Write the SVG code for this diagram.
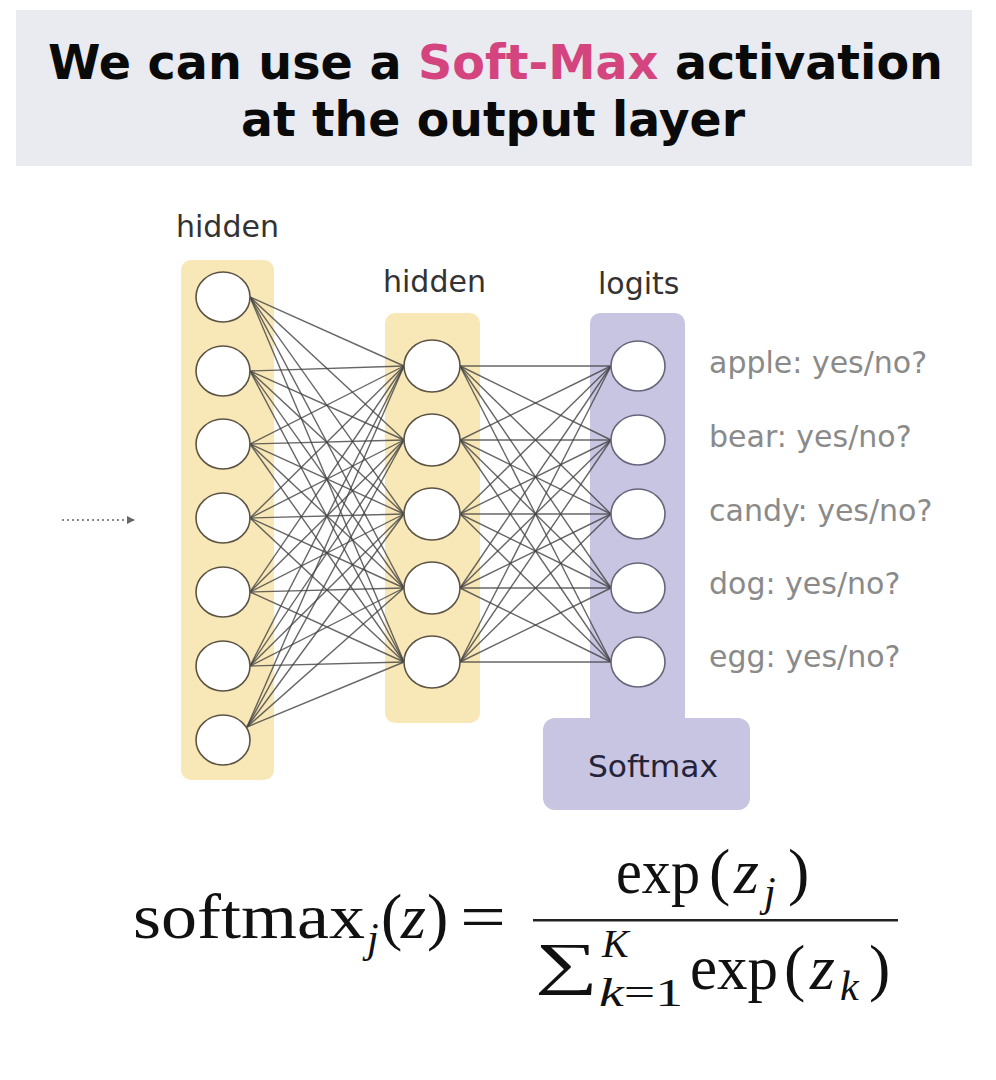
<svg xmlns="http://www.w3.org/2000/svg" width="996" height="1080" viewBox="0 0 996 1080">
<style>
.title{font-family:"DejaVu Sans","Liberation Sans",sans-serif;font-weight:bold;font-size:48px;fill:#0a0a0a}
.hdr{font-family:"DejaVu Sans","Liberation Sans",sans-serif;font-size:30px;fill:#333333}
.lbl{font-family:"DejaVu Sans","Liberation Sans",sans-serif;font-size:30px;fill:#8a8a8a}
.sm{font-family:"DejaVu Sans","Liberation Sans",sans-serif;font-size:30px;fill:#23233a}
.math{font-family:"Liberation Serif","DejaVu Serif",serif;fill:#111111}
.it{font-style:italic}
.n1{fill:#ffffff;stroke:#5b5444;stroke-width:1.6}
.n3{fill:#ffffff;stroke:#66667a;stroke-width:1.6}
.yel{fill:#f8e7b7}
.pur{fill:#c7c5e2}
#edges line{stroke:#444444;stroke-width:1.4;stroke-opacity:0.82}
</style>
<defs>
<marker id="ah" viewBox="0 0 10 10" refX="9" refY="5" markerWidth="4" markerHeight="4" orient="auto">
<path d="M0,0 L10,5 L0,10 z" fill="#666666"/>
</marker>
</defs>
<rect width="996" height="1080" fill="#ffffff"/>
<g id="title">
<rect x="16" y="10" width="956" height="156" fill="#e9ebf0"/>
<text class="title" x="48" y="79" textLength="895" lengthAdjust="spacingAndGlyphs">We can use a <tspan fill="#d4457f">Soft-Max</tspan> activation</text>
<text class="title" x="241" y="136" textLength="504" lengthAdjust="spacingAndGlyphs">at the output layer</text>
</g>
<g id="layer-backgrounds">
<rect class="yel" x="181" y="260" width="93" height="520" rx="10"/>
<rect class="yel" x="385" y="313" width="95" height="410" rx="10"/>
<rect class="pur" x="590" y="313" width="95" height="420" rx="10"/>
<rect class="pur" x="543" y="718" width="207" height="92" rx="12"/>
</g>
<g id="input-arrow">
<line x1="62" y1="520" x2="134" y2="520" stroke="#888888" stroke-width="2" stroke-dasharray="2 3" marker-end="url(#ah)"/>
</g>
<g id="edges">
<line x1="250" y1="297" x2="404" y2="366"/><line x1="250" y1="297" x2="404" y2="440"/><line x1="250" y1="297" x2="404" y2="514"/><line x1="250" y1="297" x2="404" y2="588"/><line x1="250" y1="297" x2="404" y2="662"/>
<line x1="250" y1="371" x2="404" y2="366"/><line x1="250" y1="371" x2="404" y2="440"/><line x1="250" y1="371" x2="404" y2="514"/><line x1="250" y1="371" x2="404" y2="588"/><line x1="250" y1="371" x2="404" y2="662"/>
<line x1="250" y1="444" x2="404" y2="366"/><line x1="250" y1="444" x2="404" y2="440"/><line x1="250" y1="444" x2="404" y2="514"/><line x1="250" y1="444" x2="404" y2="588"/><line x1="250" y1="444" x2="404" y2="662"/>
<line x1="250" y1="518" x2="404" y2="366"/><line x1="250" y1="518" x2="404" y2="440"/><line x1="250" y1="518" x2="404" y2="514"/><line x1="250" y1="518" x2="404" y2="588"/><line x1="250" y1="518" x2="404" y2="662"/>
<line x1="250" y1="592" x2="404" y2="366"/><line x1="250" y1="592" x2="404" y2="440"/><line x1="250" y1="592" x2="404" y2="514"/><line x1="250" y1="592" x2="404" y2="588"/><line x1="250" y1="592" x2="404" y2="662"/>
<line x1="250" y1="666" x2="404" y2="366"/><line x1="250" y1="666" x2="404" y2="440"/><line x1="250" y1="666" x2="404" y2="514"/><line x1="250" y1="666" x2="404" y2="588"/><line x1="250" y1="666" x2="404" y2="662"/>
<line x1="247" y1="727" x2="404" y2="366"/><line x1="247" y1="727" x2="404" y2="440"/><line x1="247" y1="727" x2="404" y2="514"/><line x1="247" y1="727" x2="404" y2="588"/><line x1="247" y1="727" x2="404" y2="662"/>
<line x1="460" y1="366" x2="611" y2="366"/><line x1="460" y1="366" x2="611" y2="440"/><line x1="460" y1="366" x2="611" y2="514"/><line x1="460" y1="366" x2="611" y2="588"/><line x1="460" y1="366" x2="611" y2="662"/>
<line x1="460" y1="440" x2="611" y2="366"/><line x1="460" y1="440" x2="611" y2="440"/><line x1="460" y1="440" x2="611" y2="514"/><line x1="460" y1="440" x2="611" y2="588"/><line x1="460" y1="440" x2="611" y2="662"/>
<line x1="460" y1="514" x2="611" y2="366"/><line x1="460" y1="514" x2="611" y2="440"/><line x1="460" y1="514" x2="611" y2="514"/><line x1="460" y1="514" x2="611" y2="588"/><line x1="460" y1="514" x2="611" y2="662"/>
<line x1="460" y1="588" x2="611" y2="366"/><line x1="460" y1="588" x2="611" y2="440"/><line x1="460" y1="588" x2="611" y2="514"/><line x1="460" y1="588" x2="611" y2="588"/><line x1="460" y1="588" x2="611" y2="662"/>
<line x1="460" y1="662" x2="611" y2="366"/><line x1="460" y1="662" x2="611" y2="440"/><line x1="460" y1="662" x2="611" y2="514"/><line x1="460" y1="662" x2="611" y2="588"/><line x1="460" y1="662" x2="611" y2="662"/>
</g>
<g id="layer1">
<text class="hdr" x="176" y="237">hidden</text>
<g id="h1-1"><ellipse class="n1" cx="223" cy="297" rx="27" ry="25"/></g>
<g id="h1-2"><ellipse class="n1" cx="223" cy="371" rx="27" ry="25"/></g>
<g id="h1-3"><ellipse class="n1" cx="223" cy="444" rx="27" ry="25"/></g>
<g id="h1-4"><ellipse class="n1" cx="223" cy="518" rx="27" ry="25"/></g>
<g id="h1-5"><ellipse class="n1" cx="223" cy="592" rx="27" ry="25"/></g>
<g id="h1-6"><ellipse class="n1" cx="223" cy="666" rx="27" ry="25"/></g>
<g id="h1-7"><ellipse class="n1" cx="223" cy="740" rx="27" ry="25"/></g>
</g>
<g id="layer2">
<text class="hdr" x="383" y="292">hidden</text>
<g id="h2-1"><ellipse class="n1" cx="432" cy="366" rx="28" ry="26"/></g>
<g id="h2-2"><ellipse class="n1" cx="432" cy="440" rx="28" ry="26"/></g>
<g id="h2-3"><ellipse class="n1" cx="432" cy="514" rx="28" ry="26"/></g>
<g id="h2-4"><ellipse class="n1" cx="432" cy="588" rx="28" ry="26"/></g>
<g id="h2-5"><ellipse class="n1" cx="432" cy="662" rx="28" ry="26"/></g>
</g>
<g id="logits">
<text class="hdr" x="598" y="294">logits</text>
<g id="out-apple"><ellipse class="n3" cx="638" cy="366" rx="27" ry="25"/><text class="lbl" x="709" y="373">apple: yes/no?</text></g>
<g id="out-bear"><ellipse class="n3" cx="638" cy="440" rx="27" ry="25"/><text class="lbl" x="709" y="447">bear: yes/no?</text></g>
<g id="out-candy"><ellipse class="n3" cx="638" cy="514" rx="27" ry="25"/><text class="lbl" x="709" y="521">candy: yes/no?</text></g>
<g id="out-dog"><ellipse class="n3" cx="638" cy="588" rx="27" ry="25"/><text class="lbl" x="709" y="594">dog: yes/no?</text></g>
<g id="out-egg"><ellipse class="n3" cx="638" cy="662" rx="27" ry="25"/><text class="lbl" x="709" y="667">egg: yes/no?</text></g>
</g>
<g id="softmax">
<text class="sm" x="588" y="777" textLength="130" lengthAdjust="spacingAndGlyphs">Softmax</text>
</g>
<g id="formula">
<text class="math" x="133" y="938" font-size="64" textLength="232" lengthAdjust="spacingAndGlyphs">softmax</text>
<text class="math it" x="367" y="952" font-size="42">j</text>
<text class="math" x="381" y="938" font-size="64">(</text>
<text class="math it" x="401" y="938" font-size="64">z</text>
<text class="math" x="427" y="938" font-size="64">)</text>
<text class="math" x="460" y="938" font-size="64" textLength="46" lengthAdjust="spacingAndGlyphs">=</text>
<text class="math" x="616" y="893" font-size="64" textLength="84" lengthAdjust="spacingAndGlyphs">exp</text>
<text class="math" x="709" y="893" font-size="64">(</text>
<text class="math it" x="734" y="893" font-size="64">z</text>
<text class="math it" x="764" y="906" font-size="42">j</text>
<text class="math" x="788" y="893" font-size="64">)</text>
<rect x="533" y="919" width="365" height="2.5" fill="#222222"/>
<text class="math" x="535" y="983" font-size="58" textLength="63" lengthAdjust="spacingAndGlyphs">∑</text>
<text class="math it" x="602" y="957" font-size="40">K</text>
<text class="math" x="599" y="1006" font-size="40" textLength="84" lengthAdjust="spacingAndGlyphs"><tspan font-style="italic">k</tspan>=1</text>
<text class="math" x="690" y="989" font-size="64" textLength="88" lengthAdjust="spacingAndGlyphs">exp</text>
<text class="math" x="784" y="989" font-size="64">(</text>
<text class="math it" x="810" y="989" font-size="64">z</text>
<text class="math it" x="840" y="1000" font-size="42">k</text>
<text class="math" x="869" y="989" font-size="64">)</text>
</g>
</svg>
